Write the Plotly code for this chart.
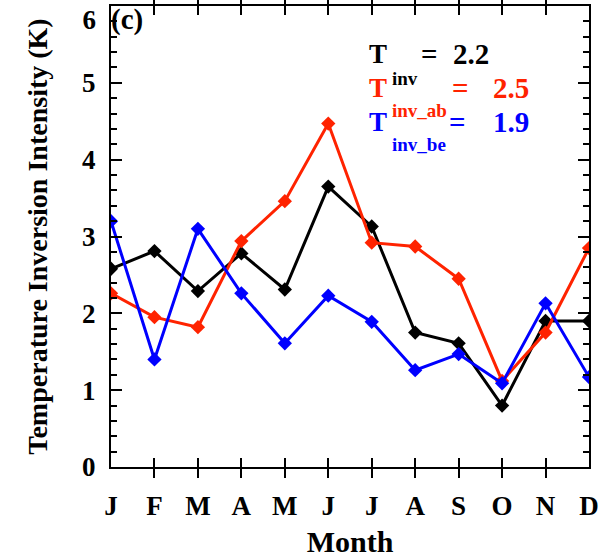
import plotly.graph_objects as go

months = ["J", "F", "M", "A", "M", "J", "J", "A", "S", "O", "N", "D"]
x_idx = list(range(12))
y_ticks = [0, 1, 2, 3, 4, 5, 6]

t_inv = [2.58, 2.81, 2.29, 2.78, 2.31, 3.65, 3.13, 1.75, 1.61, 0.80, 1.90, 1.90]
t_inv_ab = [2.26, 1.95, 1.82, 2.94, 3.46, 4.47, 2.92, 2.87, 2.45, 1.12, 1.75, 2.85]
t_inv_be = [3.20, 1.40, 3.10, 2.26, 1.61, 2.23, 1.89, 1.26, 1.47, 1.09, 2.13, 1.17]

mean_values = ["2.2", "2.5", "1.9"]

BLACK = "#000000"
RED = "#ff2300"
BLUE = "#0000ff"
FONT = "Liberation Serif"

W, H = 599, 558
L, R, T, B = 111, 10, 6, 91
PW, PH = W - L - R, H - T - B


def px(xp):
    return (xp - L) / PW


def py(yp):
    return (H - B - yp) / PH


fig = go.Figure()
for vals, col in [(t_inv, BLACK), (t_inv_ab, RED), (t_inv_be, BLUE)]:
    fig.add_trace(go.Scatter(
        x=x_idx, y=vals, mode="lines+markers",
        line=dict(color=col, width=3),
        marker=dict(symbol="diamond", size=11, color=col),
        showlegend=False,
    ))
# empty trace so that the overlay axis carrying the top tick label is drawn
fig.add_trace(go.Scatter(x=[], y=[], yaxis="y2", showlegend=False, hoverinfo="skip"))

axis_common = dict(
    showline=True, linecolor="black", linewidth=2, mirror="allticks",
    ticks="inside", tickcolor="black", tickwidth=2,
    showgrid=False, zeroline=False, automargin=False,
    tickfont=dict(family=FONT, size=27, color="black", weight="bold"),
)

fig.update_xaxes(
    range=[0, 11], tickmode="array", tickvals=x_idx, ticktext=months,
    ticklen=9, ticklabelstandoff=14,
    title=dict(text="Month", font=dict(family=FONT, size=30, color="black", weight="bold"), standoff=22),
    **axis_common,
)
fig.update_layout(
    yaxis=dict(
        range=[0, 6], tickmode="array", tickvals=y_ticks[:-1],
        ticklen=11, ticklabelstandoff=8,
        minor=dict(dtick=0.2, ticklen=6, ticks="inside", tickcolor="black", tickwidth=2),
        title=dict(text="Temperature Inversion Intensity (K)",
                   font=dict(family=FONT, size=28, color="black", weight="bold"), standoff=26),
        **axis_common,
    ),
    yaxis2=dict(
        overlaying="y", side="left", anchor="x", range=[0, 6],
        tickmode="array", tickvals=y_ticks[-1:], ticks="inside", ticklen=11,
        tickcolor="rgba(0,0,0,0)",
        ticklabelposition="outside", ticklabeloverflow="allow",
        ticklabelstandoff=14, ticklabelshift=14,
        showline=False, showgrid=False, zeroline=False, automargin=False,
        tickfont=dict(family=FONT, size=27, color="black", weight="bold"),
    ),
)


def ann(text, xp, yc, size, color):
    fig.add_annotation(
        text=text, xref="paper", yref="paper",
        x=px(xp), y=py(yc), xanchor="left", yanchor="middle",
        showarrow=False, borderpad=0,
        font=dict(family=FONT, size=size, color=color, weight="bold"),
    )


ann("(c)", 110, 19, 29, BLACK)
rows = [
    (BLACK, 54, 420, 452, "inv", 78),
    (RED, 88, 451, 492, "inv_ab", 111),
    (BLUE, 122, 448, 492, "inv_be", 144),
]
for (col, yc, xeq, xval, sub, ysub), val in zip(rows, mean_values):
    ann("T", 368, yc, 27, col)
    ann("=", xeq, yc, 29, col)
    ann(val, xval, yc, 29, col)
    ann(sub, 391, ysub, 19, col)

fig.update_layout(
    width=W, height=H,
    margin=dict(l=L, r=R, t=T, b=B, autoexpand=False),
    paper_bgcolor="white", plot_bgcolor="white",
    font=dict(family=FONT, color="black"),
)

fig.write_html("out.html")
